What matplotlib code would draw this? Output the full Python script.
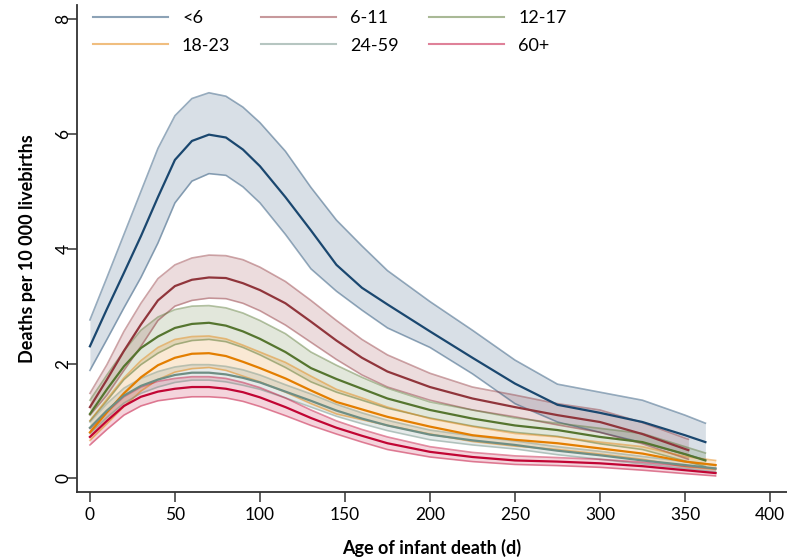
import matplotlib.pyplot as plt
from matplotlib.lines import Line2D

plt.rcParams['font.family'] = ['Lato', 'DejaVu Sans']

# age of infant death (days) at which values were read, last point per group added below
days = [0, 10, 20, 30, 40, 50, 60, 70, 80, 90, 100, 115, 130, 145, 160, 175, 200, 225, 250, 275, 300, 325, 350]
groups = ['<6', '6-11', '12-17', '18-23', '24-59', '60+']
last_day = [362, 352, 362, 368, 368, 368]

mean_lt6 = [2.3, 2.95, 3.58, 4.22, 4.9, 5.55, 5.88, 5.99, 5.94, 5.73, 5.44, 4.9, 4.32, 3.72, 3.32, 3.03, 2.56, 2.1, 1.65, 1.28, 1.14, 0.98, 0.75, 0.63]
lo_lt6 = [1.88, 2.42, 2.97, 3.5, 4.1, 4.8, 5.18, 5.31, 5.28, 5.08, 4.8, 4.25, 3.65, 3.26, 2.93, 2.62, 2.28, 1.82, 1.3, 0.98, 0.8, 0.62, 0.42, 0.32]
hi_lt6 = [2.76, 3.5, 4.25, 5.0, 5.75, 6.32, 6.62, 6.72, 6.66, 6.47, 6.2, 5.7, 5.07, 4.5, 4.05, 3.62, 3.08, 2.58, 2.06, 1.64, 1.5, 1.36, 1.1, 0.96]

mean_6_11 = [1.24, 1.72, 2.22, 2.68, 3.1, 3.35, 3.46, 3.5, 3.49, 3.4, 3.28, 3.05, 2.73, 2.4, 2.1, 1.86, 1.59, 1.39, 1.24, 1.1, 0.98, 0.77, 0.51, 0.49]
lo_6_11 = [1.1, 1.45, 1.88, 2.3, 2.75, 3.0, 3.1, 3.14, 3.13, 3.05, 2.92, 2.67, 2.37, 2.07, 1.8, 1.59, 1.36, 1.19, 1.07, 0.93, 0.8, 0.6, 0.35, 0.33]
hi_6_11 = [1.48, 1.98, 2.56, 3.05, 3.48, 3.72, 3.84, 3.89, 3.88, 3.81, 3.68, 3.43, 3.1, 2.75, 2.42, 2.15, 1.83, 1.59, 1.45, 1.3, 1.19, 0.97, 0.7, 0.68]

mean_12_17 = [1.12, 1.55, 1.95, 2.27, 2.47, 2.62, 2.69, 2.71, 2.66, 2.56, 2.43, 2.2, 1.92, 1.73, 1.56, 1.39, 1.19, 1.04, 0.92, 0.84, 0.72, 0.63, 0.42, 0.31]
lo_12_17 = [1.0, 1.35, 1.72, 1.98, 2.18, 2.33, 2.4, 2.42, 2.38, 2.28, 2.15, 1.93, 1.68, 1.5, 1.36, 1.22, 1.05, 0.91, 0.8, 0.73, 0.6, 0.5, 0.3, 0.2]
hi_12_17 = [1.36, 1.8, 2.22, 2.58, 2.81, 2.94, 3.0, 3.01, 2.97, 2.88, 2.75, 2.52, 2.2, 1.97, 1.76, 1.57, 1.33, 1.19, 1.05, 0.96, 0.87, 0.78, 0.55, 0.44]

mean_18_23 = [0.8, 1.15, 1.48, 1.76, 1.97, 2.1, 2.17, 2.18, 2.13, 2.03, 1.92, 1.74, 1.53, 1.33, 1.2, 1.07, 0.9, 0.75, 0.67, 0.61, 0.52, 0.43, 0.29, 0.23]
lo_18_23 = [0.66, 0.95, 1.25, 1.52, 1.72, 1.85, 1.91, 1.93, 1.88, 1.78, 1.68, 1.5, 1.3, 1.12, 1.02, 0.92, 0.77, 0.64, 0.56, 0.5, 0.42, 0.33, 0.2, 0.15]
hi_18_23 = [1.0, 1.38, 1.75, 2.05, 2.28, 2.42, 2.47, 2.48, 2.43, 2.32, 2.2, 2.02, 1.78, 1.55, 1.4, 1.24, 1.04, 0.9, 0.78, 0.72, 0.63, 0.55, 0.38, 0.31]

mean_24_59 = [0.88, 1.18, 1.44, 1.61, 1.72, 1.8, 1.84, 1.84, 1.81, 1.75, 1.67, 1.51, 1.35, 1.18, 1.04, 0.92, 0.76, 0.66, 0.58, 0.48, 0.4, 0.31, 0.23, 0.17]
lo_24_59 = [0.78, 1.06, 1.31, 1.48, 1.59, 1.67, 1.71, 1.71, 1.68, 1.62, 1.55, 1.4, 1.24, 1.08, 0.95, 0.83, 0.67, 0.58, 0.51, 0.41, 0.33, 0.25, 0.17, 0.11]
hi_24_59 = [0.98, 1.3, 1.57, 1.74, 1.86, 1.94, 1.98, 1.98, 1.95, 1.89, 1.8, 1.63, 1.47, 1.29, 1.14, 1.01, 0.84, 0.74, 0.65, 0.55, 0.47, 0.38, 0.29, 0.23]

mean_60p = [0.72, 1.0, 1.26, 1.42, 1.51, 1.56, 1.59, 1.59, 1.56, 1.5, 1.41, 1.24, 1.05, 0.88, 0.74, 0.61, 0.46, 0.37, 0.31, 0.29, 0.26, 0.21, 0.14, 0.09]
lo_60p = [0.58, 0.85, 1.1, 1.26, 1.35, 1.39, 1.42, 1.42, 1.4, 1.34, 1.25, 1.09, 0.92, 0.77, 0.63, 0.5, 0.37, 0.29, 0.24, 0.22, 0.19, 0.14, 0.08, 0.04]
hi_60p = [0.87, 1.15, 1.42, 1.59, 1.69, 1.74, 1.77, 1.77, 1.74, 1.67, 1.58, 1.4, 1.19, 1.0, 0.85, 0.72, 0.55, 0.45, 0.39, 0.36, 0.33, 0.28, 0.21, 0.17]

means = [mean_lt6, mean_6_11, mean_12_17, mean_18_23, mean_24_59, mean_60p]
lows = [lo_lt6, lo_6_11, lo_12_17, lo_18_23, lo_24_59, lo_60p]
highs = [hi_lt6, hi_6_11, hi_12_17, hi_18_23, hi_24_59, hi_60p]

# stata s2color palette
colors = ['#1a476f', '#90353b', '#55752f', '#e37e00', '#6e8e84', '#c10534']

fig = plt.figure(figsize=(7.87, 5.6), dpi=100)
ax = fig.add_axes([77 / 787, 68 / 560, 710 / 787, 487 / 560])

for i in range(len(groups)):
    x = days + [last_day[i]]
    ax.fill_between(x, lows[i], highs[i], color=colors[i], alpha=0.17, lw=0)
    ax.plot(x, lows[i], color=colors[i], alpha=0.45, lw=1.2)
    ax.plot(x, highs[i], color=colors[i], alpha=0.45, lw=1.2)

for i in range(len(groups)):
    x = days + [last_day[i]]
    ax.plot(x, means[i], color=colors[i], lw=1.6)

ax.set_xlim(-7.6, 410)
ax.set_ylim(-0.24, 8.25)
ax.set_xticks(range(0, 401, 50))
ax.set_yticks([0, 2, 4, 6, 8])

for s in ['top', 'right']:
    ax.spines[s].set_visible(False)
for s in ['left', 'bottom']:
    ax.spines[s].set_linewidth(1.3)
    ax.spines[s].set_color('#333333')
ax.tick_params(length=7, width=1.1, color='#333333', labelsize=12.5)
ax.tick_params(axis='x', pad=4)
ax.tick_params(axis='y', pad=-3)
for lab in ax.get_yticklabels():
    lab.set_rotation(90)
    lab.set_va('center')

ax.set_xlabel('Age of infant death (d)', fontsize=13, fontweight='bold', labelpad=11)
ax.set_ylabel('Deaths per 10 000 livebirths', fontsize=13, fontweight='bold', labelpad=14)

handles = [Line2D([], [], color=c, alpha=0.5, lw=1.5) for c in colors]
order = [0, 3, 1, 4, 2, 5]
ax.legend([handles[k] for k in order], [groups[k] for k in order], ncol=3,
          loc='upper left', bbox_to_anchor=(93 / 787, 1 - 10 / 560),
          bbox_transform=fig.transFigure, frameon=False, fontsize=13,
          handlelength=4.15, handletextpad=0.78, columnspacing=1.7,
          labelspacing=0.65, borderpad=0, borderaxespad=0)

fig.savefig('out.png', dpi=100)
